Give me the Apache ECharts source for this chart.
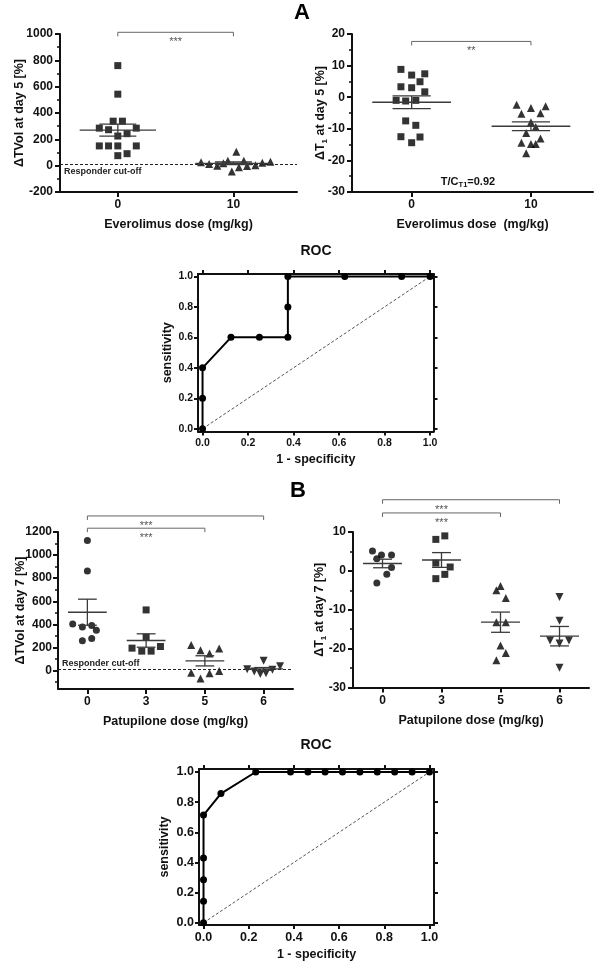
<!DOCTYPE html>
<html><head><meta charset="utf-8">
<script src="https://cdn.jsdelivr.net/npm/echarts@6/dist/echarts.min.js"></script>
<style>html,body{margin:0;padding:0;background:#fff}#c{width:600px;height:968px}</style>
</head><body><div id="c"></div>
<script>
// ================= DATA =================
// Panel A – Everolimus
const everolimusDoses = ['0', '10'];
const tvolA_control = [760, 543, 338, 338, 285, 273, 285, 243, 225, 150, 150, 150, 150, 91, 76];
const tvolA_controlJitter = [0, 0, -0.04, 0.04, -0.16, -0.08, 0.16, 0.08, 0, -0.16, -0.08, 0, 0.16, 0.08, 0];
const tvolA_treated = [26, 13, 0, 18, 38, 106, -45, -12, 38, -2, 3, 23, 30];
const tvolA_treatedJitter = [-0.28, -0.21, -0.14, -0.087, -0.048, 0.025, -0.014, 0.048, 0.09, 0.118, 0.19, 0.25, 0.32];
const tvolA_mean = [270, 18];
const tvolA_sem = [46, 10];
const tvolA_brackets = [[0, 1, 1013, 0.5, '***']];
const responderCutoffA = 13;

const t1A_control = [8.8, 7.0, 7.4, 4.9, 3.3, 3.0, 1.7, -1.0, -1.2, -1.0, -7.5, -8.9, -12.5, -12.6, -14.4];
const t1A_controlJitter = [-0.09, 0, 0.11, 0.07, -0.09, 0, 0.11, -0.13, -0.05, 0.035, -0.05, 0.035, -0.09, 0.07, 0];
const t1A_treated = [-2.4, -2.9, -3.4, -5.2, -5.1, -7.9, -9.4, -11.3, -14.4, -13.1, -14.8, -14.8, -17.7];
const t1A_treatedJitter = [-0.12, 0.123, 0, -0.08, 0.08, 0, 0.04, -0.04, -0.08, 0.08, 0, 0.04, -0.04];
const t1A_mean = [-1.6, -9.2];
const t1A_sem = [2.0, 1.4];
const t1A_brackets = [[0, 1, 17.65, 0.5, '**']];

const rocA_fpr = [0, 0, 0, 0.125, 0.25, 0.375, 0.375, 0.375, 0.625, 0.875, 1];
const rocA_tpr = [0, 0.2, 0.4, 0.6, 0.6, 0.6, 0.8, 1, 1, 1, 1];

// Panel B – Patupilone
const patupiloneDoses = ['0', '3', '5', '6'];
const tvolB_d0 = [1126, 863, 404, 376, 390, 350, 257, 277];
const tvolB_d0Jitter = [0, 0, -0.25, -0.085, 0.074, 0.153, -0.085, 0.074];
const tvolB_d3 = [525, 289, 194, 168, 168, 208];
const tvolB_d3Jitter = [0, 0, -0.24, -0.074, 0.085, 0.244];
const tvolB_d5 = [222, 176, 147, 191, -20, -69, -23, -5];
const tvolB_d5Jitter = [-0.233, -0.074, 0.08, 0.244, -0.233, -0.074, 0.08, 0.244];
const tvolB_d6 = [84, 12, -9, -29, -23, 6, 38];
const tvolB_d6Jitter = [0, -0.28, -0.16, -0.056, 0.04, 0.15, 0.28];
const tvolB_mean = [505, 260, 84, 14];
const tvolB_sem = [113, 58, 44, 12];
const tvolB_brackets = [[0, 3, 1339, 1, '***'], [0, 2, 1233, 1, '***']];
const responderCutoffB = 12;
const tvolB_ticks = [0, 200, 400, 600, 800, 1000, 1200];
const tvolB_minorTicks = [-100, 100, 300, 500, 700, 900, 1100];

const t1B_d0 = [5.1, 4.1, 4.1, 3.1, 0.9, -0.9, -3.1];
const t1B_d0Jitter = [-0.17, -0.017, 0.153, -0.096, 0.153, 0.073, -0.096];
const t1B_d3 = [8.1, 9.0, 2.0, 1.0, -0.9, -2.0];
const t1B_d3Jitter = [-0.096, 0.056, -0.096, 0.147, 0.056, -0.096];
const t1B_d5 = [-3.9, -5.0, -7.0, -13.2, -13.2, -19.2, -21.1, -23.0];
const t1B_d5Jitter = [0, -0.07, 0.09, -0.07, 0.09, 0, 0.09, -0.07];
const t1B_d6 = [-6.7, -12.8, -17.9, -18.7, -17.9, -24.9];
const t1B_d6Jitter = [0, 0, -0.16, 0, 0.16, 0];
const t1B_mean = [1.9, 2.8, -13.2, -16.8];
const t1B_sem = [1.1, 1.9, 2.6, 2.5];
const t1B_brackets = [[0, 3, 18.3, 1, '***'], [0, 2, 14.9, 1, '***']];

const rocB_fpr = [0, 0, 0, 0, 0, 0.077, 0.231, 0.385, 0.462, 0.538, 0.615, 0.692, 0.769, 0.846, 0.923, 1];
const rocB_tpr = [0, 0.143, 0.286, 0.429, 0.714, 0.857, 1, 1, 1, 1, 1, 1, 1, 1, 1, 1];

const rocTicks = [0, 0.2, 0.4, 0.6, 0.8, 1.0];
const chanceLine = [[0, 0], [1, 1]];

// ================= STYLE / HELPERS =================
const FONT = '"Liberation Sans", Arial, Helvetica, sans-serif';
const INK = '#111';
const titleStyle = { fontSize: 12.5, fontWeight: 'bold', color: INK, fontFamily: FONT };
const subRich = {
  a: { fontSize: 12.5, fontWeight: 'bold', color: INK, fontFamily: FONT, lineHeight: 16 },
  s: { fontSize: 8, fontWeight: 'bold', color: INK, fontFamily: FONT, lineHeight: 9, verticalAlign: 'bottom' }
};
const plain = v => String(v);

function catXAxis(gridIndex, labels, max, name, nameGap) {
  const idx = labels.map((_, i) => i);
  return {
    type: 'value', gridIndex, min: -0.5, max, position: 'bottom',
    splitLine: { show: false },
    axisLine: { show: true, onZero: false, lineStyle: { color: INK, width: 2 } },
    axisTick: { show: true, customValues: idx, length: 5, lineStyle: { color: INK, width: 2 } },
    axisLabel: { customValues: idx, formatter: v => labels[Math.round(v)], margin: 7,
      fontSize: 12, fontWeight: 'bold', color: INK, fontFamily: FONT },
    name, nameLocation: 'middle', nameGap, nameTextStyle: titleStyle
  };
}
function valYAxis(gridIndex, min, max, interval, name, nameGap, nameRich) {
  const ax = {
    type: 'value', gridIndex, min, max, position: 'left',
    splitLine: { show: false },
    axisLine: { show: true, onZero: false, lineStyle: { color: INK, width: 2 } },
    axisTick: { show: true, length: 5, lineStyle: { color: INK, width: 2 } },
    axisLabel: { margin: 7, formatter: plain, fontSize: 12, fontWeight: 'bold', color: INK, fontFamily: FONT },
    name, nameLocation: 'middle', nameGap, nameMoveOverlap: false,
    nameTextStyle: nameRich ? Object.assign({}, titleStyle, { rich: subRich }) : titleStyle
  };
  if (interval != null) {
    ax.interval = interval;
    ax.minorTick = { show: true, splitNumber: 2, length: 3, lineStyle: { color: INK, width: 1.5 } };
  }
  return ax;
}
function rocX(gridIndex, position, min, max, fs, name, nameGap) {
  return {
    type: 'value', gridIndex, position, min, max,
    splitLine: { show: false },
    axisLine: { show: true, onZero: false, lineStyle: { color: INK, width: 2 } },
    axisTick: { show: true, customValues: rocTicks, length: 4, lineStyle: { color: INK, width: 2 } },
    axisLabel: { show: position === 'bottom', customValues: rocTicks, formatter: v => v.toFixed(1),
      margin: 6, fontSize: fs, fontWeight: 'bold', color: INK, fontFamily: FONT },
    name: position === 'bottom' ? name : '', nameLocation: 'middle', nameGap, nameTextStyle: titleStyle
  };
}
function rocY(gridIndex, position, min, max, fs, name, nameGap) {
  return {
    type: 'value', gridIndex, position, min, max,
    splitLine: { show: false },
    axisLine: { show: true, onZero: false, lineStyle: { color: INK, width: 2 } },
    axisTick: { show: true, customValues: rocTicks, length: 4, lineStyle: { color: INK, width: 2 } },
    axisLabel: { show: position === 'left', customValues: rocTicks, formatter: v => v.toFixed(1),
      margin: 5, fontSize: fs, fontWeight: 'bold', color: INK, fontFamily: FONT },
    name: position === 'left' ? name : '', nameLocation: 'middle', nameGap, nameTextStyle: titleStyle
  };
}

function pts(values, jitter, group) { return values.map((v, i) => [group + jitter[i], v]); }

function scatter(xi, yi, values, jitter, group, symbol, size, rotate, extra) {
  return Object.assign({
    type: 'scatter', xAxisIndex: xi, yAxisIndex: yi, symbol, symbolSize: size,
    symbolRotate: rotate || 0, itemStyle: { color: '#000' }, z: 3, silent: true,
    data: pts(values, jitter, group)
  }, extra || {});
}

function meanSem(xi, yi, means, sems) {
  const HM = 0.33, HC = 0.16;
  return {
    type: 'custom', xAxisIndex: xi, yAxisIndex: yi, z: 6, clip: false, silent: true,
    data: means.map((m, i) => [i, m, sems[i]]),
    renderItem(params, api) {
      const g = api.value(0), m = api.value(1), s = api.value(2);
      const st = { stroke: '#3a3a3a', lineWidth: 1.3 };
      const L = (a, b) => ({ type: 'line', shape: { x1: a[0], y1: a[1], x2: b[0], y2: b[1] }, style: st });
      return { type: 'group', children: [
        L(api.coord([g - HM, m]), api.coord([g + HM, m])),
        L(api.coord([g, m - s]), api.coord([g, m + s])),
        L(api.coord([g - HC, m + s]), api.coord([g + HC, m + s])),
        L(api.coord([g - HC, m - s]), api.coord([g + HC, m - s]))
      ] };
    }
  };
}

function brackets(xi, yi, list) {
  return {
    type: 'custom', xAxisIndex: xi, yAxisIndex: yi, z: 6, clip: false, silent: true,
    data: list.map(b => [b[0], b[1], b[2], b[3]]),
    renderItem(params, api) {
      const lv = api.value(2);
      const a = api.coord([api.value(0), lv]);
      const b = api.coord([api.value(1), lv]);
      const t = api.coord([api.value(3), lv]);
      return { type: 'group', children: [
        { type: 'polyline', shape: { points: [[a[0], a[1] + 4], [a[0], a[1]], [b[0], b[1]], [b[0], b[1] + 4]] },
          style: { stroke: '#666', lineWidth: 1, fill: null } },
        { type: 'text', style: { text: list[params.dataIndex][4], x: t[0], y: t[1] + 10, align: 'center',
          verticalAlign: 'middle', fontSize: 11, fill: '#555', fontFamily: FONT } }
      ] };
    }
  };
}

function cutoffLine(value, pos, dist) {
  return {
    silent: true, symbol: ['none', 'none'],
    lineStyle: { type: [3, 2], color: '#222', width: 1 },
    label: { show: true, position: pos, formatter: 'Responder cut-off', distance: dist,
      fontSize: 9, fontWeight: 'bold', color: '#222', fontFamily: FONT },
    data: [{ yAxis: value }]
  };
}

function rocSeries(xi, yi, fpr, tpr, size) {
  return [
    { type: 'line', xAxisIndex: xi, yAxisIndex: yi, data: chanceLine, symbol: 'none', silent: true,
      lineStyle: { type: [3, 2], width: 1, color: '#555' }, z: 2 },
    { type: 'line', xAxisIndex: xi, yAxisIndex: yi, data: fpr.map((x, i) => [x, tpr[i]]),
      symbol: 'circle', symbolSize: size, showAllSymbol: true, silent: true,
      itemStyle: { color: '#000' }, lineStyle: { color: '#000', width: 2 }, z: 3 }
  ];
}

// ================= CHART =================
const chart = echarts.init(document.getElementById('c'), null, { renderer: 'canvas' });
const option = {
  animation: false,
  backgroundColor: '#fff',
  grid: [
    { left: 60, top: 34, width: 237, height: 158 },
    { left: 352, top: 34, width: 241, height: 158 },
    { left: 198, top: 274, width: 235.5, height: 157.5 },
    { left: 58, top: 532, width: 235, height: 157 },
    { left: 353, top: 532, width: 236, height: 155.5 },
    { left: 199, top: 769, width: 235, height: 156 }
  ],
  xAxis: [
    catXAxis(0, everolimusDoses, 1.55, 'Everolimus dose (mg/kg)', 26),
    catXAxis(1, everolimusDoses, 1.52, 'Everolimus dose  (mg/kg)', 26),
    rocX(2, 'bottom', -0.02, 1.015, 10.5, '1 - specificity', 22),
    rocX(2, 'top', -0.02, 1.015, 10.5, '', 0),
    catXAxis(3, patupiloneDoses, 3.5, 'Patupilone dose (mg/kg)', 26),
    catXAxis(4, patupiloneDoses, 3.5, 'Patupilone dose (mg/kg)', 27),
    rocX(5, 'bottom', -0.02, 1.02, 12.5, '1 - specificity', 23),
    rocX(5, 'top', -0.02, 1.02, 12.5, '', 0)
  ],
  yAxis: [
    valYAxis(0, -200, 1000, 200, 'ΔTVol at day 5 [%]', 34),
    valYAxis(1, -30, 20, 10, '{a|ΔT}{s|1}{a| at day 5 [%]}', 23, true),
    rocY(2, 'left', -0.018, 1.016, 10.5, 'sensitivity', 22),
    rocY(2, 'right', -0.018, 1.016, 10.5, '', 0),
    Object.assign(valYAxis(3, -160, 1200, null, 'ΔTVol at day 7 [%]', 31), {
      axisTick: { show: true, customValues: tvolB_ticks, length: 5, lineStyle: { color: INK, width: 2 } },
      axisLabel: { customValues: tvolB_ticks, formatter: plain, margin: 6, fontSize: 12, fontWeight: 'bold', color: INK, fontFamily: FONT }
    }),
    { type: 'value', gridIndex: 3, min: -160, max: 1200, position: 'left', splitLine: { show: false },
      axisLine: { show: false, onZero: false }, axisLabel: { show: false },
      axisTick: { show: true, customValues: tvolB_minorTicks, length: 3, lineStyle: { color: INK, width: 1.5 } } },
    valYAxis(4, -30, 10, 10, '{a|ΔT}{s|1}{a| at day 7 [%]}', 25, true),
    rocY(5, 'left', -0.015, 1.02, 12.5, 'sensitivity', 28),
    rocY(5, 'right', -0.015, 1.02, 12.5, '', 0)
  ],
  series: [
    // A left
    scatter(0, 0, tvolA_control, tvolA_controlJitter, 0, 'rect', 7, 0,
      { markLine: cutoffLine(responderCutoffA, 'insideStartBottom', [4, 3]) }),
    scatter(0, 0, tvolA_treated, tvolA_treatedJitter, 1, 'triangle', 8),
    meanSem(0, 0, tvolA_mean, tvolA_sem),
    brackets(0, 0, tvolA_brackets),
    // A right
    scatter(1, 1, t1A_control, t1A_controlJitter, 0, 'rect', 7),
    scatter(1, 1, t1A_treated, t1A_treatedJitter, 1, 'triangle', 8),
    meanSem(1, 1, t1A_mean, t1A_sem),
    brackets(1, 1, t1A_brackets),
    // ROC A
    ...rocSeries(2, 2, rocA_fpr, rocA_tpr, 7),
    // B left
    scatter(4, 4, tvolB_d0, tvolB_d0Jitter, 0, 'circle', 7, 0,
      { markLine: cutoffLine(responderCutoffB, 'insideStartTop', [4, 1]) }),
    scatter(4, 4, tvolB_d3, tvolB_d3Jitter, 1, 'rect', 7),
    scatter(4, 4, tvolB_d5, tvolB_d5Jitter, 2, 'triangle', 8),
    scatter(4, 4, tvolB_d6, tvolB_d6Jitter, 3, 'triangle', 8, 180),
    meanSem(4, 4, tvolB_mean, tvolB_sem),
    brackets(4, 4, tvolB_brackets),
    // B right
    scatter(5, 6, t1B_d0, t1B_d0Jitter, 0, 'circle', 7),
    scatter(5, 6, t1B_d3, t1B_d3Jitter, 1, 'rect', 7),
    scatter(5, 6, t1B_d5, t1B_d5Jitter, 2, 'triangle', 8),
    scatter(5, 6, t1B_d6, t1B_d6Jitter, 3, 'triangle', 8, 180),
    meanSem(5, 6, t1B_mean, t1B_sem),
    brackets(5, 6, t1B_brackets),
    // ROC B
    ...rocSeries(6, 7, rocB_fpr, rocB_tpr, 7)
  ],
  graphic: [
    { type: 'text', x: 302, y: 13, style: { text: 'A', align: 'center', verticalAlign: 'middle',
      font: 'bold 22px ' + FONT, fill: '#000' } },
    { type: 'text', x: 298, y: 491, style: { text: 'B', align: 'center', verticalAlign: 'middle',
      font: 'bold 22px ' + FONT, fill: '#000' } },
    { type: 'text', x: 316, y: 251, style: { text: 'ROC', align: 'center', verticalAlign: 'middle',
      font: 'bold 14px ' + FONT, fill: INK } },
    { type: 'text', x: 316, y: 745, style: { text: 'ROC', align: 'center', verticalAlign: 'middle',
      font: 'bold 14px ' + FONT, fill: INK } },
    { type: 'text', x: 468, y: 182, style: { text: '{a|T/C}{s|T1}{a|=0.92}', align: 'center', verticalAlign: 'middle',
      rich: {
        a: { fontSize: 11, fontWeight: 'bold', fill: INK, fontFamily: FONT, lineHeight: 14 },
        s: { fontSize: 7.5, fontWeight: 'bold', fill: INK, fontFamily: FONT, lineHeight: 8, verticalAlign: 'bottom' }
      } } }
  ]
};
chart.setOption(option);
</script>
</body></html>
